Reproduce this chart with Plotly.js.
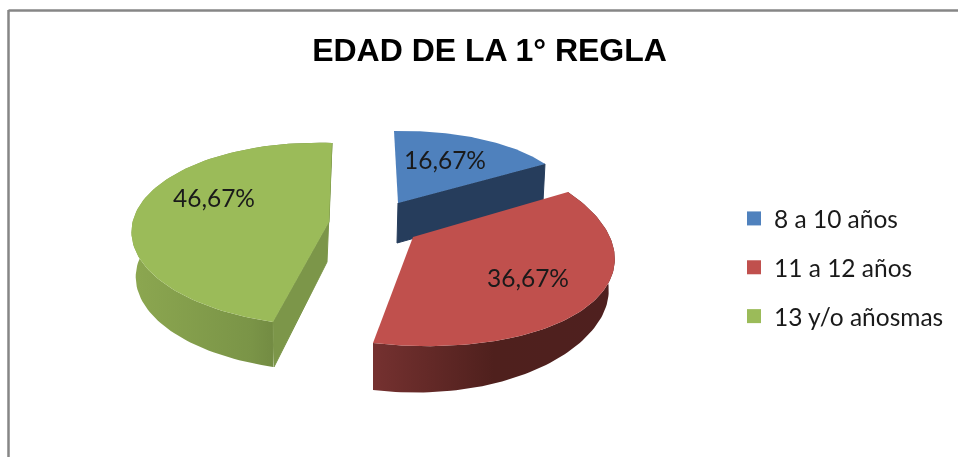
<!DOCTYPE html>
<html>
<head>
<meta charset="utf-8">
<script src="https://cdn.plot.ly/plotly-3.0.1.min.js"></script>
<style>html,body{margin:0;padding:0;background:#fff}#chart{width:958px;height:457px;filter:blur(0.4px)}</style>
</head>
<body>
<div id="chart"></div>
<script>
// ---- data ----
const chartTitle = 'EDAD DE LA 1° REGLA';
const categories = ['8 a 10 años', '11 a 12 años', '13 y/o añosmas'];
const percentages = [16.67, 36.67, 46.67];

// ---- drawing style: faked 3D view of every exploded slice ----
const topColors = ['#4f81bd', '#c0504d', '#9bbb59'];
const views = [
  {cx:398, cy:203, ax:172, bx:-4, ay:-3.5, by:-72, apex:[398,203], depth:38, apexDepth:40, label:[445,163],
   inner:'#263d5c', outer:null},
  {cx:390, cy:241, ax:222.8, bx:-30, ay:4, by:-105.1, apex:[413,237], depth:47, apexDepth:47, label:[528,281],
   inner:null, outer:[[0,'#753130'],[0.5,'#4f201d'],[1,'#4f201f']], pivot:373, shrink:0.975, curve:2.7},
  {cx:322.2, cy:234.2, ax:190.5, bx:9.8, ay:7, by:-91.2, apex:[329,222], depth:45, apexDepth:40, label:[214,201],
   inner:'#7c9649', outer:[[0,'#8ca750'],[0.6,'#7a9447'],[1,'#5f7437']], pivot:273, shrink:0.97, curve:0}
];
const total = percentages.reduce((a,b)=>a+b,0);
const fmt = v => v.toFixed(2).replace('.',',') + '%';

function arc(view, t0, t1){
  const xs=[], ys=[], n=90;
  for(let i=0;i<=n;i++){
    const t=(t0+(t1-t0)*i/n)*Math.PI/180, u=Math.sin(t), v=Math.cos(t);
    xs.push(view.cx+view.ax*u+view.bx*v);
    ys.push(view.cy+view.ay*u+view.by*v);
  }
  return {xs,ys};
}

const traces=[];
// legend entries
categories.forEach((c,i)=>traces.push({
  type:'scatter', mode:'markers', x:[null], y:[null], name:c, legendgroup:c,
  marker:{symbol:'square', size:14, color:topColors[i]}, hoverinfo:'skip'
}));

let start=0;
const faces=[];
percentages.forEach((p,i)=>{
  const sweep=p/total*360, end=start+sweep, view=views[i], a=arc(view,start,end);
  const n=a.xs.length-1;
  const add=(x,y,extra)=>faces.push(Object.assign({
    type:'scatter', mode:'lines', x, y, fill:'toself', line:{width:0}, showlegend:false, hoverinfo:'skip'
  },extra));
  // outer wall: floor arc is slightly narrower and shallower away from the front corner
  if(view.outer){
    const fx=a.xs.map(x=>view.pivot+(x-view.pivot)*view.shrink);
    const fy=a.ys.map((y,k)=>y+view.depth-view.curve*Math.pow((a.xs[k]-view.pivot)/100,2));
    add(a.xs.concat(fx.slice().reverse()), a.ys.concat(fy.slice().reverse()),
        {fillcolor:view.outer[1][1], fillgradient:{type:'horizontal', colorscale:view.outer}});
  }
  // cut walls
  if(view.inner){
    const edge={width:1, color:view.inner};
    if(i===0){
      add([view.apex[0],a.xs[n],a.xs[n]-2,view.apex[0]-1,view.apex[0]],
          [view.apex[1],a.ys[n],a.ys[n]+view.depth,view.apex[1]+view.apexDepth,view.apex[1]],
          {fillcolor:view.inner, line:edge});
    } else {
      add([a.xs[n],view.apex[0],a.xs[0],a.xs[0]+1,view.apex[0]-2,a.xs[n]],
          [a.ys[n],view.apex[1],a.ys[0],a.ys[0]+view.depth,view.apex[1]+view.apexDepth,a.ys[n]],
          {fillcolor:view.inner, line:edge});
    }
  }
  // top face
  add(a.xs.concat([view.apex[0],a.xs[0]]), a.ys.concat([view.apex[1],a.ys[0]]), {fillcolor:topColors[i]});
  start=end;
});
traces.push(...faces);
traces.push({
  type:'scatter', mode:'text', x:views.map(v=>v.label[0]), y:views.map(v=>v.label[1]),
  text:percentages.map(fmt), textposition:'middle center',
  textfont:{family:'Lato, Carlito, sans-serif', size:24.5, color:'#1a1a1a'},
  showlegend:false, hoverinfo:'skip'
});

const layout={
  width:958, height:457, margin:{l:0,r:0,t:0,b:0},
  paper_bgcolor:'#fff', plot_bgcolor:'#fff',
  title:{text:chartTitle, x:489.5/958, xanchor:'center', xref:'paper', y:1-50/457, yanchor:'middle', yref:'paper',
         pad:{t:0,b:0,l:0,r:0},
         font:{family:'Liberation Sans, Arial, sans-serif', size:32, color:'#000', weight:'bold'}},
  xaxis:{range:[0,958], visible:false, fixedrange:true},
  yaxis:{range:[457,0], visible:false, fixedrange:true},
  showlegend:true,
  legend:{x:734/958, xanchor:'left', y:1-196/457, yanchor:'top', traceorder:'grouped', tracegroupgap:14,
          bgcolor:'rgba(0,0,0,0)', itemclick:false, itemdoubleclick:false,
          font:{family:'Lato, Carlito, sans-serif', size:24.5, color:'#1a1a1a'}},
  shapes:[
    {type:'line', xref:'x', yref:'y', x0:8.5, x1:958, y0:10.5, y1:10.5, line:{color:'#868686', width:2.5}},
    {type:'line', xref:'x', yref:'y', x0:8.5, x1:8.5, y0:10, y1:457, line:{color:'#868686', width:2.5}}
  ]
};
Plotly.newPlot('chart',traces,layout,{displayModeBar:false,staticPlot:true});
</script>
</body>
</html>
